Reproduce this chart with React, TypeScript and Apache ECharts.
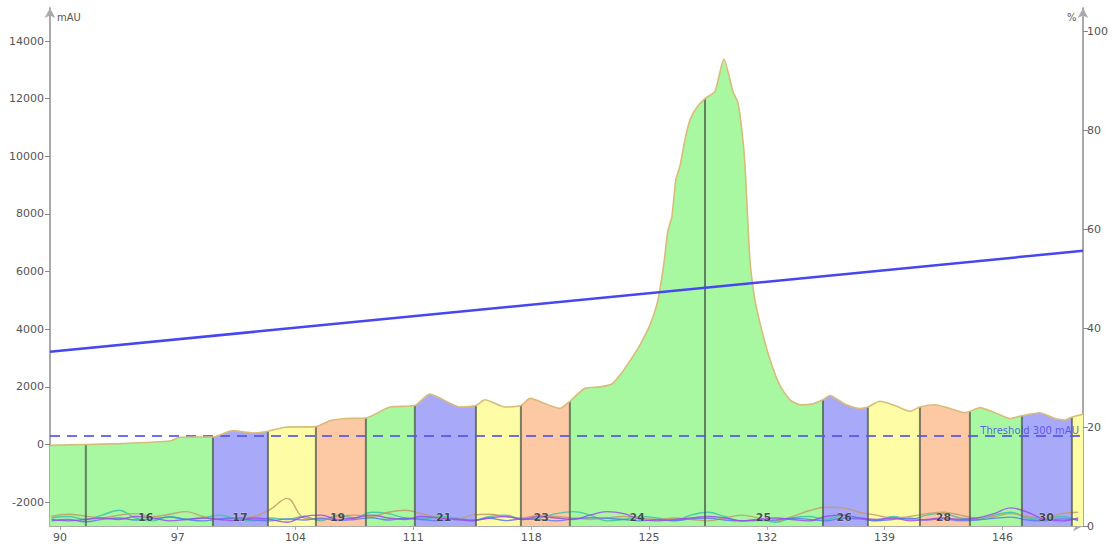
import React, { useEffect, useRef } from "react";
import * as echarts from "echarts";

// UV absorbance curve (ml, mAU)
const uvX = [
  89.41, 91.54, 93.57, 96.54, 97.13, 99.09, 100.28, 101.47, 102.36, 103.37, 105.21, 106.04, 106.93, 108.18,
  109.61, 111.09, 111.98, 113.77, 114.72, 115.25, 116.44, 117.39, 117.93, 119.11, 119.71, 120.3, 121.19,
  122.09, 122.8, 123.27, 123.87, 124.46, 125.06, 125.53, 125.89, 126.12, 126.36, 126.6, 126.84, 127.13,
  127.43, 127.85, 128.33, 128.92, 129.45, 129.99, 130.29, 130.52, 130.7, 131.0, 131.3, 131.71, 132.19,
  132.78, 133.38, 133.97, 134.68, 135.34, 135.75, 136.65, 137.53, 138.01, 138.72, 139.61, 140.51, 141.1,
  141.99, 142.88, 143.77, 144.07, 144.66, 145.56, 146.45, 147.16, 148.23, 149.12, 149.72, 150.13, 150.79,
];
const uvY = [
  -30, 0, 30, 120, 250, 260, 480, 400, 460, 600, 620, 820, 900, 920,
  1300, 1350, 1750, 1300, 1350, 1550, 1300, 1350, 1600, 1350, 1250, 1500, 1950,
  2000, 2100, 2400, 2900, 3450, 4150, 5000, 6300, 7400, 7900, 9200, 9650, 10550,
  11250, 11700, 12000, 12250, 13370, 12250, 11850, 10900, 9750, 6400, 5000, 3950, 2950,
  2050, 1550, 1380, 1400, 1550, 1700, 1400, 1250, 1300, 1500, 1350, 1150, 1300,
  1380, 1250, 1100, 1150, 1280, 1100, 900, 1000, 1100, 900, 850, 950, 1050,
];

// fraction boundaries (ml)
const fractionBounds = [
  91.54, 99.09, 102.36, 105.21, 108.18, 111.09, 114.72, 117.39, 120.3, 128.33, 135.34, 138.01, 141.1,
  144.07, 147.16, 150.13,
];
const bandColorNames = [
  "green", "green", "blue", "yellow", "orange", "green", "blue", "yellow", "orange",
  "green", "green", "blue", "yellow", "orange", "green", "blue", "yellow",
];
const palette: Record<string, string> = {
  green: "#a8f8a2",
  blue: "#a9a9f9",
  yellow: "#fffca6",
  orange: "#fdc9a4",
};

// fraction labels
const fractionLabels = ["16", "17", "19", "21", "23", "24", "25", "26", "28", "30"];
const fractionLabelX = [95.1, 100.7, 106.5, 112.8, 118.6, 124.3, 131.8, 136.6, 142.5, 148.6];
const fractionLabelY = -2520;

// gradient %B
const gradientX = [89.41, 150.79];
const gradientY = [35.2, 55.6];

const thresholdValue = 300;

// ticks
const xTicks = [90, 97, 104, 111, 118, 125, 132, 139, 146];
const yTicks = [-2000, 0, 2000, 4000, 6000, 8000, 10000, 12000, 14000];
const pctTicks = [0, 20, 40, 60, 80, 100];

// low-level traces near the bottom
const noiseX = [
  89.5, 90.5, 91.5, 92.5, 93.5, 94.5, 95.5, 96.5, 97.5, 98.5, 99.5, 100.5, 101.5, 102.5, 103.5, 104.5,
  105.5, 106.5, 107.5, 108.5, 109.5, 110.5, 111.5, 112.5, 113.5, 114.5, 115.5, 116.5, 117.5, 118.5,
  119.5, 120.5, 121.5, 122.5, 123.5, 124.5, 125.5, 126.5, 127.5, 128.5, 129.5, 130.5, 131.5, 132.5,
  133.5, 134.5, 135.5, 136.5, 137.5, 138.5, 139.5, 140.5, 141.5, 142.5, 143.5, 144.5, 145.5, 146.5,
  147.5, 148.5, 149.5, 150.5,
];
const tealTrace = [
  -2550, -2500, -2600, -2450, -2280, -2550, -2650, -2500, -2600, -2550, -2450, -2600, -2650, -2550,
  -2600, -2500, -2650, -2450, -2550, -2350, -2400, -2550, -2600, -2500, -2550, -2650, -2500, -2450,
  -2600, -2550, -2400, -2330, -2450, -2650, -2600, -2500, -2550, -2650, -2450, -2350, -2500, -2650,
  -2600, -2700, -2550, -2500, -2600, -2450, -2550, -2650, -2500, -2600, -2450, -2400, -2550, -2600,
  -2450, -2350, -2550, -2600, -2500, -2650,
];
const tanTrace = [
  -2500, -2420, -2480, -2550, -2450, -2400, -2500, -2420, -2330, -2500, -2600, -2550, -2500, -2250,
  -1870, -2550, -2600, -2500, -2450, -2500, -2350, -2280, -2400, -2550, -2600, -2450, -2420, -2500,
  -2550, -2450, -2500, -2550, -2600, -2550, -2500, -2550, -2600, -2550, -2600, -2650, -2550, -2450,
  -2550, -2650, -2500, -2300, -2180, -2200, -2350, -2450, -2550, -2500, -2400, -2350, -2450, -2550,
  -2500, -2400, -2500, -2550, -2400, -2350,
];
const purpleTrace = [
  -2600, -2650, -2600, -2550, -2600, -2500, -2550, -2650, -2600, -2550, -2600, -2650, -2550, -2600,
  -2700, -2500, -2450, -2600, -2550, -2450, -2550, -2600, -2500, -2550, -2600, -2650, -2550, -2500,
  -2600, -2500, -2550, -2600, -2450, -2330, -2400, -2600, -2650, -2600, -2550, -2500, -2550, -2650,
  -2600, -2550, -2600, -2650, -2500, -2450, -2550, -2600, -2550, -2650, -2600, -2550, -2600, -2550,
  -2400, -2200, -2350, -2600, -2650, -2550,
];
const blueTrace = [
  -2650, -2600, -2680, -2600, -2550, -2620, -2580, -2520, -2600, -2650, -2580, -2550, -2620, -2650,
  -2580, -2620, -2560, -2640, -2600, -2540, -2620, -2560, -2600, -2650, -2580, -2620, -2560, -2640,
  -2580, -2600, -2650, -2580, -2540, -2560, -2600, -2650, -2600, -2640, -2580, -2560, -2620, -2650,
  -2640, -2620, -2560, -2600, -2650, -2560, -2580, -2640, -2600, -2560, -2620, -2580, -2640, -2620,
  -2560, -2520, -2620, -2650, -2580, -2600,
];

const Y_MIN = -2828;
const Y_MAX = 15145;
const P_MAX = 104.65;

export default function App() {
  const ref = useRef<HTMLDivElement>(null);

  useEffect(() => {
    if (!ref.current) return;
    const chart = echarts.init(ref.current, undefined, { renderer: "svg" });

    const uvData = uvX.map((x, i) => [x, uvY[i]]);
    const edges = [uvX[0], ...fractionBounds, uvX[uvX.length - 1]];

    const bandSeries: any[] = bandColorNames.map((c, i) => {
      const a = edges[i];
      const b = edges[i + 1];
      return {
        type: "line",
        name: "band" + i,
        data: uvData.filter((p) => p[0] >= a - 1e-9 && p[0] <= b + 1e-9),
        symbol: "none",
        silent: true,
        lineStyle: { width: 0 },
        areaStyle: { color: palette[c], opacity: 1, origin: "start" },
        z: 1,
      };
    });

    const boundaryData: any[] = [];
    fractionBounds.forEach((x) => {
      const idx = uvX.indexOf(x);
      boundaryData.push([x, Y_MIN]);
      boundaryData.push([x, uvY[idx]]);
      boundaryData.push([x, "-"]);
    });

    const noise = (arr: number[], color: string) => ({
      type: "line",
      data: noiseX.slice(0, arr.length).map((x, i) => [x, arr[i]]),
      symbol: "none",
      smooth: 0.4,
      silent: true,
      lineStyle: { color, width: 1.4, opacity: 0.85 },
      z: 3,
    });

    const axisFont = { fontFamily: "DejaVu Sans", fontSize: 11, color: "#555" };
    const plain = (v: number) => String(v);

    chart.setOption({
      animation: false,
      grid: { left: 50, right: 30, top: 8, bottom: 26 },
      xAxis: {
        type: "value",
        min: uvX[0],
        max: uvX[uvX.length - 1],
        axisLine: {
          show: true,
          lineStyle: { color: "#aaa", width: 2 },
          symbol: ["none", "arrow"],
          symbolSize: [8, 10],
          onZero: false,
        },
        axisTick: { show: true, customValues: xTicks, length: 4, lineStyle: { color: "#aaa" } },
        axisLabel: { ...axisFont, customValues: xTicks, margin: 6, formatter: plain },
        splitLine: { show: false },
      },
      yAxis: [
        {
          type: "value",
          min: Y_MIN,
          max: Y_MAX,
          axisLine: {
            show: true,
            lineStyle: { color: "#aaa", width: 2 },
            symbol: ["none", "arrow"],
            symbolSize: [8, 10],
            onZero: false,
          },
          axisTick: { show: true, customValues: yTicks, length: 5, lineStyle: { color: "#888" } },
          axisLabel: { ...axisFont, customValues: yTicks, margin: 6, formatter: plain },
          splitLine: { show: false },
        },
        {
          type: "value",
          min: 0,
          max: P_MAX,
          position: "right",
          axisLine: {
            show: true,
            lineStyle: { color: "#aaa", width: 2 },
            symbol: ["none", "arrow"],
            symbolSize: [8, 10],
            onZero: false,
          },
          axisTick: { show: true, customValues: pctTicks, length: 5, lineStyle: { color: "#888" } },
          axisLabel: { ...axisFont, customValues: pctTicks, margin: 4, formatter: plain },
          splitLine: { show: false },
        },
      ],
      graphic: [
        { type: "text", left: 57, top: 12, style: { text: "mAU", ...axisFont, fill: "#555", fontSize: 10 } },
        { type: "text", left: 1067, top: 12, style: { text: "%", ...axisFont, fill: "#555", fontSize: 10 } },
      ],
      series: [
        ...bandSeries,
        noise(tealTrace, "#3cc4a4"),
        noise(tanTrace, "#c49a68"),
        noise(blueTrace, "#5a78f0"),
        noise(purpleTrace, "#a048f0"),
        {
          type: "line",
          name: "boundaries",
          data: boundaryData,
          symbol: "none",
          connectNulls: false,
          silent: true,
          lineStyle: { color: "#4a5a4a", width: 2, opacity: 0.75 },
          z: 4,
        },
        {
          type: "line",
          name: "UV",
          data: uvData,
          symbol: "none",
          smooth: 0.2,
          silent: true,
          lineStyle: { color: "#d8bc78", width: 1.6 },
          z: 5,
          markLine: {
            silent: true,
            symbol: ["none", "none"],
            lineStyle: { color: "#5555f0", type: [10, 7], width: 2, opacity: 0.85 },
            label: {
              show: true,
              position: "insideEndTop",
              formatter: "Threshold 300 mAU",
              color: "#4848ee",
              fontFamily: "DejaVu Sans",
              fontSize: 10,
              distance: [4, 0],
            },
            data: [{ yAxis: thresholdValue }],
          },
        },
        {
          type: "line",
          name: "gradient",
          yAxisIndex: 1,
          data: gradientX.map((x, i) => [x, gradientY[i]]),
          symbol: "none",
          silent: true,
          lineStyle: { color: "#4646f2", width: 2.5 },
          z: 6,
        },
        {
          type: "scatter",
          name: "fractions",
          data: fractionLabelX.map((x, i) => ({ value: [x, fractionLabelY], name: fractionLabels[i] })),
          symbolSize: 0,
          silent: true,
          label: {
            show: true,
            position: "inside",
            formatter: "{b}",
            color: "#2a2a2a",
            fontFamily: "DejaVu Sans",
            fontSize: 11,
            fontWeight: "bold",
            textBorderColor: "rgba(255,255,255,0.45)",
            textBorderWidth: 1,
          },
          z: 7,
        },
      ],
    });

    return () => chart.dispose();
  }, []);

  return (
    <div
      ref={ref}
      style={{ position: "fixed", left: 0, top: 0, width: 1113, height: 552, background: "#fff" }}
    />
  );
}
